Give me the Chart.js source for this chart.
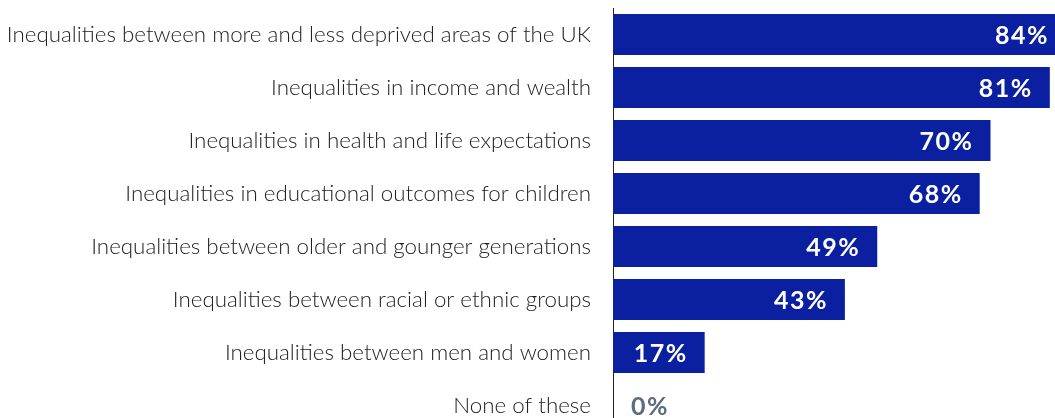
<!DOCTYPE html>
<html>
<head>
<meta charset="utf-8">
<script src="https://cdn.jsdelivr.net/npm/chart.js@4"></script>
<style>
html,body{margin:0;padding:0;overflow:hidden;background:#fff;width:1055px;height:418px;}
#wrap{position:absolute;left:0;top:0;width:1066px;height:432px;}
</style>
</head>
<body>
<div id="wrap"><canvas id="c" width="1066" height="432"></canvas></div>
<script>
const categories = [
  "Inequalities between more and less deprived areas of the UK",
  "Inequalities in income and wealth",
  "Inequalities in health and life expectations",
  "Inequalities in educational outcomes for children",
  "Inequalities between older and gounger generations",
  "Inequalities between racial or ethnic groups",
  "Inequalities between men and women",
  "None of these"
];
const values = [84, 81, 70, 68, 49, 43, 17, 0];
const valueLabels = ["84%", "81%", "70%", "68%", "49%", "43%", "17%", "0%"];

const labelPlugin = {
  id: 'valLabels',
  afterDatasetsDraw(chart) {
    const ctx = chart.ctx;
    const xs = chart.scales.x;
    const meta = chart.getDatasetMeta(0);
    ctx.save();
    ctx.font = 'bold 25px Lato';
    ctx.letterSpacing = '1.5px';
    ctx.textBaseline = 'middle';
    meta.data.forEach((bar, i) => {
      const v = values[i];
      if (v > 0) {
        ctx.fillStyle = '#ffffff';
        ctx.textAlign = 'right';
        ctx.fillText(valueLabels[i], xs.getPixelForValue(v) - 17, bar.y + 1);
      } else {
        ctx.fillStyle = '#5b6b82';
        ctx.textAlign = 'left';
        ctx.fillText(valueLabels[i], xs.getPixelForValue(0) + 18, bar.y + 1);
      }
    });
    ctx.restore();
  }
};

new Chart(document.getElementById('c'), {
  type: 'bar',
  data: {
    labels: categories,
    datasets: [{
      data: values,
      backgroundColor: '#0b20a0',
      borderWidth: 0,
      barPercentage: 0.774,
      categoryPercentage: 1
    }]
  },
  options: {
    indexAxis: 'y',
    responsive: false,
    animation: false,
    events: [],
    layout: { padding: { top: 8, right: 0, bottom: 0, left: 0 } },
    plugins: { legend: { display: false }, tooltip: { enabled: false } },
    scales: {
      x: { display: false, min: 0, max: 84 },
      y: {
        grid: { display: false, drawTicks: false },
        border: { display: true, color: '#222222', width: 1 },
        ticks: {
          color: '#222222',
          padding: 22,
          font: { family: 'Lato', size: 22.35, weight: 300 }
        },
        afterFit(scale) {
          scale.width = 613;
          scale.paddingTop = 0;
          scale.paddingBottom = 0;
        }
      }
    }
  },
  plugins: [labelPlugin]
});
</script>
</body>
</html>
